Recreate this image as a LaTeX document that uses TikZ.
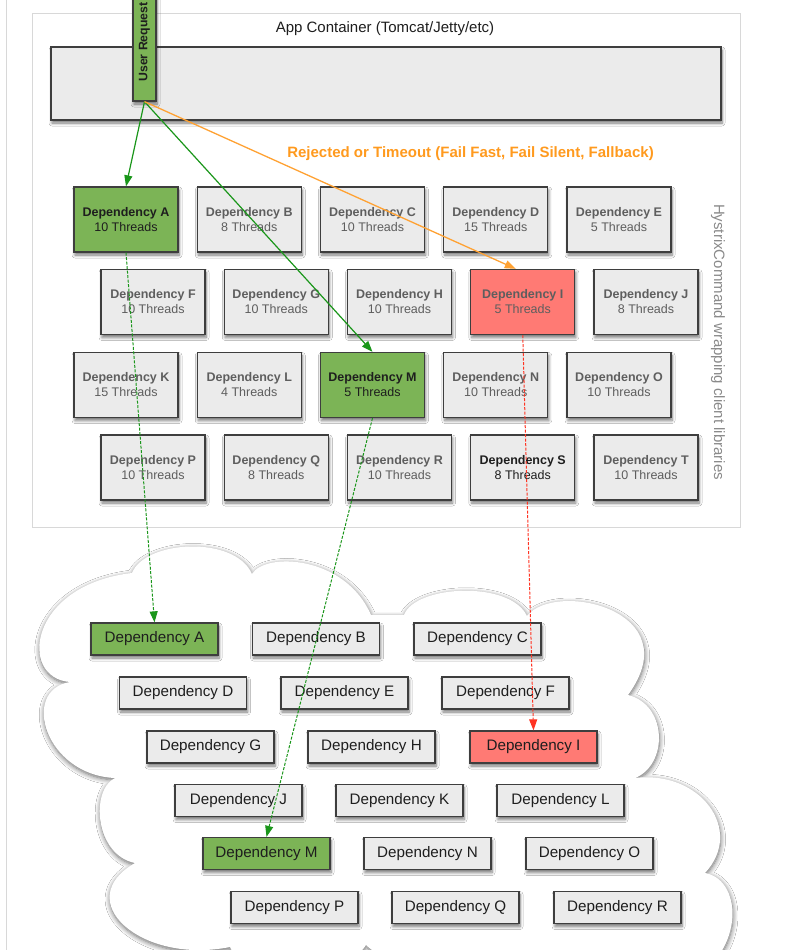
\documentclass[tikz,border=0pt]{standalone}
\usepackage{fontspec}
\setmainfont{Liberation Sans}
\usetikzlibrary{arrows.meta,shadows.blur}
\definecolor{boxfill}{HTML}{EBEBEB}
\definecolor{boxline}{HTML}{3E3E3E}
\definecolor{greenfill}{HTML}{7CB456}
\definecolor{redfill}{HTML}{FF7A74}
\definecolor{greenline}{HTML}{1A961A}
\definecolor{redline}{HTML}{FF3322}
\definecolor{orangeline}{HTML}{FFA233}
\definecolor{orangetext}{HTML}{FF9A1E}
\definecolor{softtext}{HTML}{5E5E5E}
\definecolor{darktext}{HTML}{1E1E1E}
\definecolor{frameline}{HTML}{D8D8D8}
\definecolor{sidetext}{HTML}{8A8A8A}
\begin{document}
\begin{tikzpicture}[x=1pt,y=-1pt,
  boxshadow/.style={blur shadow={shadow xshift=1pt,shadow yshift=-3pt,shadow blur radius=3pt,shadow blur steps=6,shadow opacity=55}},
  depbox/.style={boxshadow,draw=boxline,line width=1.3pt,fill=boxfill,minimum width=104pt,minimum height=65pt,inner sep=0pt,align=center,font=\fontsize{12.5}{15}\selectfont,text=softtext},
  hot/.style={text=darktext},
  okbox/.style={fill=greenfill},
  failbox/.style={fill=redfill},
  svcbox/.style={boxshadow,draw=boxline,line width=1.3pt,fill=boxfill,minimum width=127pt,minimum height=32pt,inner sep=0pt,font=\fontsize{15.2}{17}\selectfont,text=darktext},
  okline/.style={draw=greenline,line width=1.2pt,-{Triangle[length=11pt,width=8pt]}},
  okdash/.style={okline,line width=1pt,dash pattern=on 3pt off 1.5pt},
  faildash/.style={draw=redline,line width=1pt,dash pattern=on 3pt off 1.5pt,-{Triangle[length=11pt,width=8pt]}},
  rejline/.style={draw=orangeline,line width=1.3pt,-{Triangle[length=11pt,width=8pt]}}
]
\useasboundingbox (0,0) rectangle (793,950);
\clip (0,0) rectangle (793,950);
\fill[white] (0,0) rectangle (793,950);
\draw[frameline,line width=1pt] (6,-5) -- (6,955);

% App container
\draw[frameline,line width=1pt,fill=white] (32,14) rectangle (740,527);
\node[font=\fontsize{15}{18}\selectfont,text=darktext] (title) at (385,28.5) {App Container (Tomcat/Jetty/etc)};
\node[boxshadow,draw=boxline,line width=1.3pt,fill=boxfill,minimum width=670pt,minimum height=73pt,inner sep=0pt] (bar) at (386,83.5) {};
\node[boxshadow,draw=boxline,line width=1.3pt,fill=greenfill,rotate=90,minimum width=118pt,minimum height=23pt,inner sep=0pt,font=\bfseries\fontsize{12.3}{14}\selectfont,text=darktext] (ur) at (144.5,42) {User Request};

\node[font=\bfseries\fontsize{15}{18}\selectfont,text=orangetext] (rej) at (470.5,154) {Rejected or Timeout (Fail Fast, Fail Silent, Fallback)};
\node[font=\fontsize{15}{18}\selectfont,text=sidetext,rotate=-90] (side) at (718,342) {HystrixCommand wrapping client libraries};

% thread pool grid
\node[depbox,okbox,hot] (A) at (126,219.5) {\textbf{Dependency A}\\10 Threads};
\node[depbox] (B) at (249.25,219.5) {\textbf{Dependency B}\\8 Threads};
\node[depbox] (C) at (372.5,219.5) {\textbf{Dependency C}\\10 Threads};
\node[depbox] (D) at (495.75,219.5) {\textbf{Dependency D}\\15 Threads};
\node[depbox] (E) at (619,219.5) {\textbf{Dependency E}\\5 Threads};

\node[depbox] (F) at (153,302) {\textbf{Dependency F}\\10 Threads};
\node[depbox] (G) at (276.25,302) {\textbf{Dependency G}\\10 Threads};
\node[depbox] (H) at (399.5,302) {\textbf{Dependency H}\\10 Threads};
\node[depbox,failbox] (I) at (522.75,302) {\textbf{Dependency I}\\5 Threads};
\node[depbox] (J) at (646,302) {\textbf{Dependency J}\\8 Threads};

\node[depbox] (K) at (126,385) {\textbf{Dependency K}\\15 Threads};
\node[depbox] (L) at (249.25,385) {\textbf{Dependency L}\\4 Threads};
\node[depbox,okbox,hot] (M) at (372.5,385) {\textbf{Dependency M}\\5 Threads};
\node[depbox] (N) at (495.75,385) {\textbf{Dependency N}\\10 Threads};
\node[depbox] (O) at (619,385) {\textbf{Dependency O}\\10 Threads};

\node[depbox] (P) at (153,467.5) {\textbf{Dependency P}\\10 Threads};
\node[depbox] (Q) at (276.25,467.5) {\textbf{Dependency Q}\\8 Threads};
\node[depbox] (R) at (399.5,467.5) {\textbf{Dependency R}\\10 Threads};
\node[depbox,hot] (S) at (522.75,467.5) {\textbf{Dependency S}\\8 Threads};
\node[depbox] (T) at (646,467.5) {\textbf{Dependency T}\\10 Threads};

% cloud
\path[fill=white,blur shadow={shadow xshift=0.5pt,shadow yshift=-2pt,shadow blur radius=5pt,shadow blur steps=8,shadow opacity=60}]
  (132,573) .. controls (145,540) and (235,535) .. (252,574)
  .. controls (265,552) and (345,555) .. (371,615)
  -- (404,615)
  .. controls (415,585) and (510,580) .. (527,616)
  .. controls (555,580) and (690,610) .. (628,695)
  .. controls (668,705) and (668,765) .. (635,778)
  .. controls (700,770) and (745,830) .. (705,873)
  .. controls (745,880) and (745,960) .. (680,985)
  .. controls (600,1010) and (420,995) .. (366,945)
  .. controls (340,985) and (250,990) .. (230,947)
  .. controls (140,965) and (70,900) .. (135,863)
  .. controls (95,855) and (90,790) .. (115,778)
  .. controls (45,775) and (20,690) .. (70,682)
  .. controls (18,678) and (28,585) .. (132,573) -- cycle;

\node[svcbox,okbox] (cA) at (154.5,639) {Dependency A};
\node[svcbox] (cB) at (316,639) {Dependency B};
\node[svcbox] (cC) at (477.5,639) {Dependency C};
\node[svcbox] (cD) at (183,693) {Dependency D};
\node[svcbox] (cE) at (344.5,693) {Dependency E};
\node[svcbox] (cF) at (505.5,693) {Dependency F};
\node[svcbox] (cG) at (210.5,747) {Dependency G};
\node[svcbox] (cH) at (371.5,747) {Dependency H};
\node[svcbox,failbox] (cI) at (533.5,747) {Dependency I};
\node[svcbox] (cJ) at (238.5,800.5) {Dependency J};
\node[svcbox] (cK) at (399.5,800.5) {Dependency K};
\node[svcbox] (cL) at (560.5,800.5) {Dependency L};
\node[svcbox,okbox] (cM) at (266.5,853.5) {Dependency M};
\node[svcbox] (cN) at (427.5,853.5) {Dependency N};
\node[svcbox] (cO) at (589.5,853.5) {Dependency O};
\node[svcbox] (cP) at (294.5,907.5) {Dependency P};
\node[svcbox] (cQ) at (455.5,907.5) {Dependency Q};
\node[svcbox] (cR) at (617.5,907.5) {Dependency R};

% connectors
\draw[okline] (ur.west) -- (A.north);
\draw[okline] (ur.west) -- (M.north);
\draw[rejline] (ur.west) -- ([xshift=-7pt]I.north);
\draw[okdash] (A.south) -- (cA.north);
\draw[okdash] (M.south) -- (cM.north);
\draw[faildash] (I.south) -- (cI.north);
\end{tikzpicture}
\end{document}
